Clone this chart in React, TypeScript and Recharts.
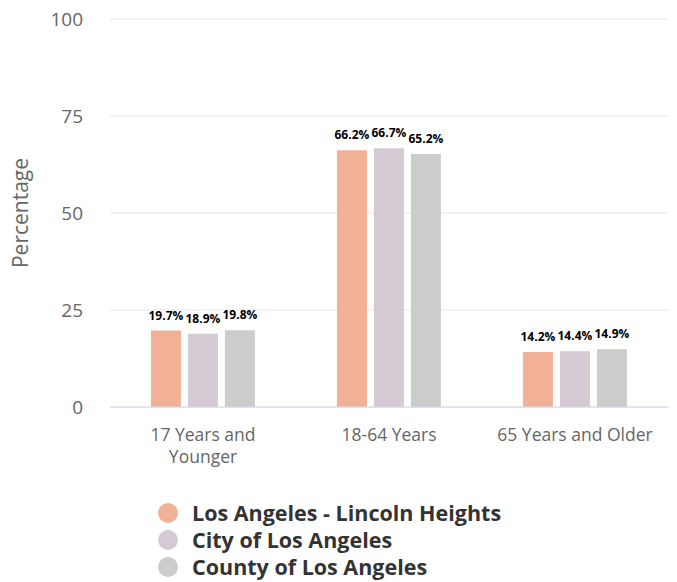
import { BarChart, Bar, XAxis, YAxis, CartesianGrid, LabelList } from "recharts";

const categories = ["17 Years and Younger", "18-64 Years", "65 Years and Older"];
const lincolnHeights = [19.7, 66.2, 14.2];
const cityOfLA = [18.9, 66.7, 14.4];
const countyOfLA = [19.8, 65.2, 14.9];
const yTicks = [0, 25, 50, 75, 100];

const series = [
  { key: "lh", name: "Los Angeles - Lincoln Heights", color: "#f2b196", values: lincolnHeights },
  { key: "city", name: "City of Los Angeles", color: "#d4cad3", values: cityOfLA },
  { key: "county", name: "County of Los Angeles", color: "#cccccc", values: countyOfLA },
];

const data = categories.map((c, i) => {
  const row: Record<string, string | number> = { name: c };
  for (const s of series) row[s.key] = s.values[i];
  return row;
});

const font = "'Open Sans', 'Noto Sans', sans-serif";
const X_FONT = 17.5;

// greedy word wrap, measured with a canvas
function wrap(text: string, maxWidth: number): string[] {
  const ctx = document.createElement("canvas").getContext("2d");
  if (!ctx) return [text];
  ctx.font = `${X_FONT}px ${font}`;
  const lines: string[] = [];
  let cur = "";
  for (const w of text.split(" ")) {
    const next = cur ? cur + " " + w : w;
    if (cur && ctx.measureText(next).width > maxWidth) {
      lines.push(cur);
      cur = w;
    } else cur = next;
  }
  if (cur) lines.push(cur);
  return lines;
}

function XTick(props: any) {
  const { x, y, payload } = props;
  const lines = wrap(String(payload.value), 168);
  return (
    <text x={x} y={y} textAnchor="middle" fontSize={X_FONT} fontFamily={font} fill="#666">
      {lines.map((l, i) => (
        <tspan key={i} x={x} dy={i === 0 ? "0.71em" : 22}>
          {l}
        </tspan>
      ))}
    </text>
  );
}

export default function App() {
  return (
    <div style={{ position: "absolute", left: 0, top: 0, width: 677, height: 582, background: "#fff", fontFamily: font }}>
      <BarChart
        width={677}
        height={480}
        data={data}
        margin={{ top: 19, right: 9, bottom: 0, left: 0 }}
        barCategoryGap="22%"
        barGap={7}
      >
        <CartesianGrid vertical={false} stroke="#e6e6e6" />
        <XAxis
          dataKey="name"
          height={73}
          tick={<XTick />}
          tickLine={false}
          tickSize={6}
          tickMargin={16}
          axisLine={{ stroke: "#ccd6eb" }}
          interval={0}
        />
        <YAxis
          width={110}
          domain={[0, 100]}
          ticks={yTicks}
          tickLine={false}
          axisLine={false}
          tickSize={0}
          tickMargin={27}
          tick={{ fontSize: 19, fill: "#666", fontFamily: font }}
          label={{
            value: "Percentage",
            angle: -90,
            position: "insideLeft",
            dx: 16,
            style: { textAnchor: "middle", fontSize: 21, fill: "#666", fontFamily: font },
          }}
        />
        {series.map((s) => (
          <Bar key={s.key} dataKey={s.key} name={s.name} fill={s.color} isAnimationActive={false}>
            <LabelList
              dataKey={s.key}
              position="top"
              offset={11}
              formatter={(v: any) => `${v}%`}
              style={{ fontSize: 12, fontWeight: 700, fill: "#000", fontFamily: font }}
            />
          </Bar>
        ))}
      </BarChart>
      <div style={{ position: "absolute", left: 158, top: 499 }}>
        {series.map((s) => (
          <div key={s.key} style={{ display: "flex", alignItems: "center", height: 27 }}>
            <span
              style={{ width: 20, height: 20, borderRadius: "50%", background: s.color, display: "inline-block", marginRight: 14 }}
            />
            <span style={{ fontSize: 21.5, fontWeight: 700, color: "#333", lineHeight: "27px" }}>{s.name}</span>
          </div>
        ))}
      </div>
    </div>
  );
}
